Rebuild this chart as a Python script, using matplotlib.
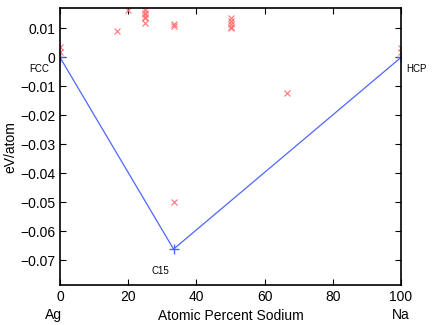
import matplotlib
matplotlib.use("Agg")
import matplotlib.pyplot as plt
from matplotlib.transforms import blended_transform_factory

plt.rcParams['font.family'] = ['Liberation Sans', 'DejaVu Sans']

# candidate structures (percent Na, formation energy eV/atom)
cand_x = [0, 0, 16.7, 20, 25, 25, 25, 25, 25, 25, 33.3, 33.3, 33.3,
          50, 50, 50, 50, 50, 66.7, 100, 100]
cand_y = [0.0035, 0.002, 0.009, 0.0162, 0.0165, 0.0155, 0.015, 0.014, 0.0135, 0.012,
          0.0117, 0.0107, -0.050,
          0.0135, 0.0125, 0.0115, 0.0105, 0.010, -0.0124, 0.0032, 0.0018]

# convex hull
hull_x = [0, 33.3, 100]
hull_y = [0, -0.0662, 0]
hull_labels = ["FCC", "C15", "HCP"]

fig = plt.figure(figsize=(4.36, 3.25), dpi=100)
ax = fig.add_axes([0.1376, 0.123, 0.7822, 0.851])

ax.plot(cand_x, cand_y, 'x', color=(1, 0.45, 0.45), markersize=5, markeredgewidth=0.8, linestyle='none')
ax.plot(hull_x, hull_y, '-+', color=(0.3, 0.4, 1), linewidth=0.9, markersize=7, markeredgewidth=1.0)

ax.text(-6, -0.0022, hull_labels[0], fontsize=7, ha='center', va='top')
ax.text(29.5, -0.0722, hull_labels[1], fontsize=7, ha='center', va='top')
ax.text(104.5, -0.0022, hull_labels[2], fontsize=7, ha='center', va='top')

ax.set_xlim(0, 100)
ax.set_ylim(-0.0786, 0.0169)
ax.set_xticks([0, 20, 40, 60, 80, 100])
ax.set_yticks([-0.07, -0.06, -0.05, -0.04, -0.03, -0.02, -0.01, 0, 0.01])
ax.set_yticklabels(["\u22120.07", "\u22120.06", "\u22120.05", "\u22120.04", "\u22120.03",
                    "\u22120.02", "\u22120.01", "0", "0.01"])
ax.tick_params(direction='in', top=True, right=True, labelsize=10, length=4)
for s in ax.spines.values():
    s.set_linewidth(1.2)

ax.set_ylabel("eV/atom", fontsize=10, labelpad=2)
ax.set_xlabel("Atomic Percent Sodium", fontsize=10, labelpad=4)
tr = blended_transform_factory(ax.transData, fig.transFigure)
ax.text(-2, 0.031, "Ag", transform=tr, fontsize=10, ha='center', va='center')
ax.text(100, 0.031, "Na", transform=tr, fontsize=10, ha='center', va='center')

fig.savefig("out.png", dpi=100)
